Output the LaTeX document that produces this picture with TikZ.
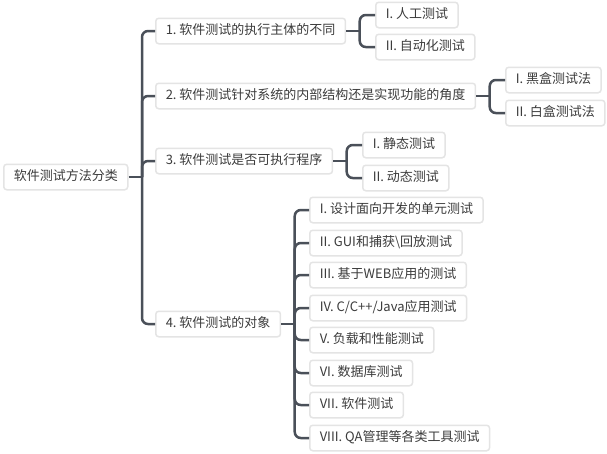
\documentclass[tikz,border=0pt]{standalone}
\usepackage{fontspec}
\setmainfont{Noto Sans CJK SC}
\definecolor{linegray}{RGB}{74,80,89}
\definecolor{boxgray}{RGB}{228,228,228}
\definecolor{txtgray}{RGB}{60,60,60}
\begin{document}
\begin{tikzpicture}[x=1pt,y=-1pt,
  topic/.style={draw=boxgray,line width=1.5pt,fill=white,rounded corners=3pt,anchor=west,
    inner xsep=10pt,inner ysep=0pt,minimum height=25.5pt,text height=10pt,text depth=3pt,
    text=txtgray,font=\fontsize{13pt}{15pt}\selectfont},
  link/.style={draw=linegray,line width=2.5pt},
  branch/.style={link,rounded corners=6pt}]
\useasboundingbox (0,0) rectangle (607,453);

\node (root) at (3,177) [topic]{软件测试方法分类};

\node (A) at (155,31) [topic]{1.\ 软件测试的执行主体的不同};
\node (B) at (155,96) [topic]{2.\ 软件测试针对系统的内部结构还是实现功能的角度};
\node (C) at (155,161) [topic]{3.\ 软件测试是否可执行程序};
\node (D) at (155,324) [topic]{4.\ 软件测试的对象};

\node (A1) at (375,15) [topic]{I.\ 人工测试};
\node (A2) at (375,47) [topic]{II.\ 自动化测试};

\node (B1) at (505,80) [topic]{I.\ 黑盒测试法};
\node (B2) at (505,113) [topic]{II.\ 白盒测试法};

\node (C1) at (362,145) [topic]{I.\ 静态测试};
\node (C2) at (362,178) [topic]{II.\ 动态测试};

\node (D1) at (309,210) [topic]{I.\ 设计面向开发的单元测试};
\node (D2) at (309,243) [topic]{II.\ GUI和捕获\textbackslash 回放测试};
\node (D3) at (309,275) [topic]{III.\ 基于WEB应用的测试};
\node (D4) at (309,308) [topic]{IV.\ C/C++/Java应用测试};
\node (D5) at (309,340) [topic]{V.\ 负载和性能测试};
\node (D6) at (309,373) [topic]{VI.\ 数据库测试};
\node (D7) at (309,405) [topic]{VII.\ 软件测试};
\node (D8) at (309,438) [topic]{VIII.\ QA管理等各类工具测试};

% trunks
\coordinate (T) at ([xshift=13.5pt]root.east);
\coordinate (TA) at ([xshift=13.5pt]A.east);
\coordinate (TB) at ([xshift=13.5pt]B.east);
\coordinate (TC) at ([xshift=13.5pt]C.east);
\coordinate (TD) at ([xshift=13.5pt]D.east);

\draw[link] (root.east)--(T);
\draw[branch] (T)|-(A.west);
\draw[branch] (T)|-(B.west);
\draw[branch] (T)|-(C.west);
\draw[branch] (T)|-(D.west);

\draw[link] (A.east)--(TA);
\draw[branch] (TA)|-(A1.west);
\draw[branch] (TA)|-(A2.west);

\draw[link] (B.east)--(TB);
\draw[branch] (TB)|-(B1.west);
\draw[branch] (TB)|-(B2.west);

\draw[link] (C.east)--(TC);
\draw[branch] (TC)|-(C1.west);
\draw[branch] (TC)|-(C2.west);

\draw[link] (D.east)--(TD);
\draw[branch] (TD)|-(D1.west);
\draw[branch] (TD)|-(D2.west);
\draw[branch] (TD)|-(D3.west);
\draw[branch] (TD)|-(D4.west);
\draw[branch] (TD)|-(D5.west);
\draw[branch] (TD)|-(D6.west);
\draw[branch] (TD)|-(D7.west);
\draw[branch] (TD)|-(D8.west);

\end{tikzpicture}
\end{document}
